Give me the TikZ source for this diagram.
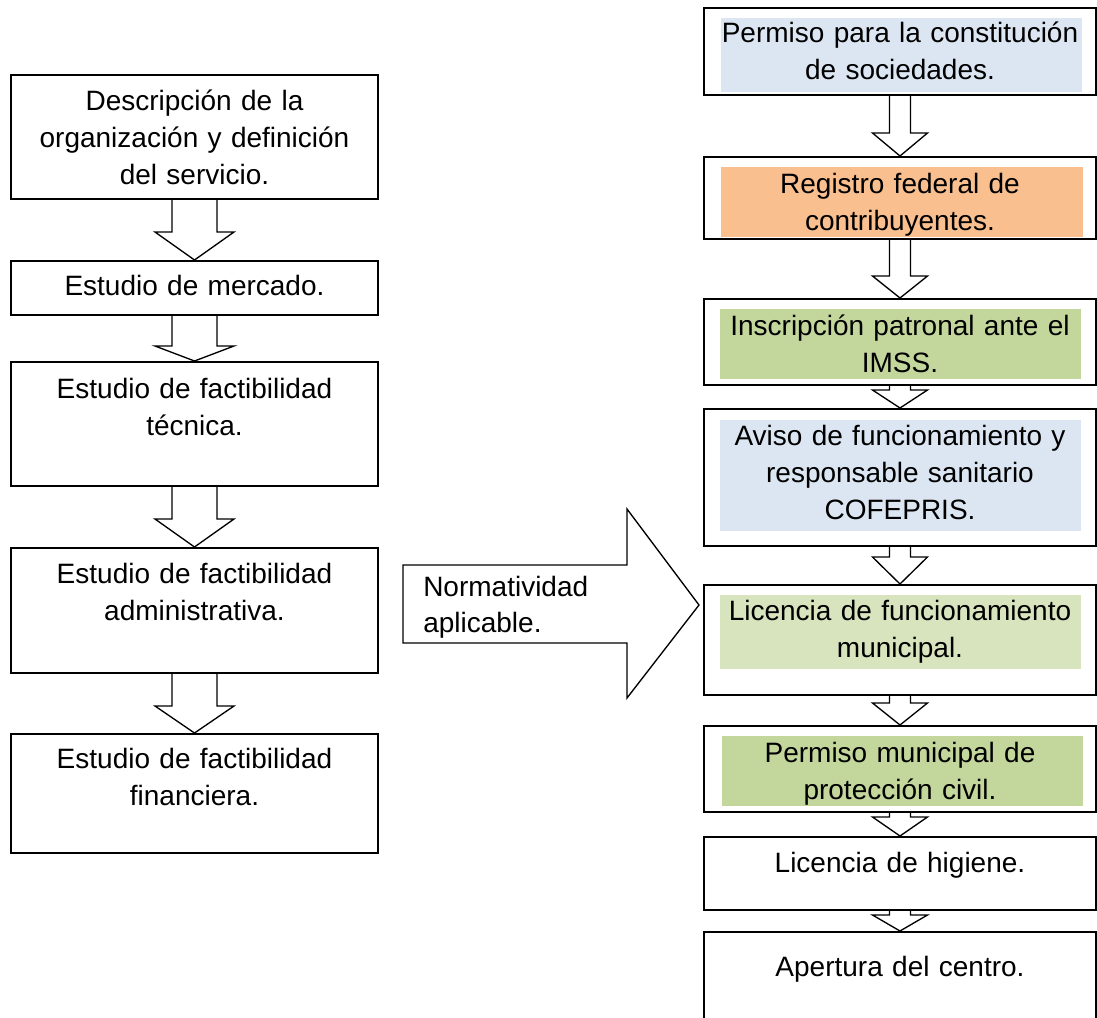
\documentclass[tikz,border=0pt]{standalone}
\usepackage{fontspec}
\setmainfont{Liberation Sans}
\usetikzlibrary{calc}
\definecolor{fblue}{HTML}{DCE6F2}
\definecolor{forange}{HTML}{F9BF8F}
\definecolor{fgreen}{HTML}{C3D69B}
\definecolor{flgreen}{HTML}{D7E4BD}
\tikzset{
 box/.style={draw, line width=1.5pt, fill=white, inner sep=0pt, anchor=north},
 lbox/.style={box, minimum width=367*0.75pt},
 rbox/.style={box, minimum width=392*0.75pt},
 txt/.style={font=\fontsize{21}{28}\selectfont, text width=385*0.75pt, align=center, inner sep=0pt, anchor=base},
 blk/.style={draw, line width=1pt, line join=miter},
}
\newcommand\blockarr[5]{%
 \draw[blk] ($(#1.south)+(-#3,0)$) -- ($(#2.north)+(-#3,-#5)$) -- ($(#2.north)+(-#4,-#5)$) -- (#2.north) -- ($(#2.north)+(#4,-#5)$) -- ($(#2.north)+(#3,-#5)$) -- ($(#1.south)+(#3,0)$);
}
\begin{document}
\begin{tikzpicture}[x=0.75pt, y=-0.75pt]
\useasboundingbox (0,0) rectangle (1097,1018);
\clip (0,0) rectangle (1097,1018);
% left column
\node[lbox, minimum height=124*0.75pt] (l1) at (194.5,74) {};
\node[lbox, minimum height=54*0.75pt] (l2) at (194.5,260) {};
\node[lbox, minimum height=124*0.75pt] (l3) at (194.5,361) {};
\node[lbox, minimum height=125*0.75pt] (l4) at (194.5,547) {};
\node[lbox, minimum height=119*0.75pt] (l5) at (194.5,733) {};
% right column
\node[rbox, minimum height=87*0.75pt] (r1) at (900,7) {};
\node[rbox, minimum height=82*0.75pt] (r2) at (900,156) {};
\node[rbox, minimum height=86*0.75pt] (r3) at (900,298) {};
\node[rbox, minimum height=137*0.75pt] (r4) at (900,408) {};
\node[rbox, minimum height=110*0.75pt] (r5) at (900,584) {};
\node[rbox, minimum height=86*0.75pt] (r6) at (900,725) {};
\node[rbox, minimum height=73*0.75pt] (r7) at (900,836) {};
\node[rbox, minimum height=100*0.75pt] (r8) at (900,931) {};
% shading
\fill[fblue] (721,18) rectangle (1082,92);
\fill[forange] (721,167) rectangle (1083,237);
\fill[fgreen] (720,309) rectangle (1081,379);
\fill[fblue] (720,420) rectangle (1081,531);
\fill[flgreen] (720,595) rectangle (1081,669);
\fill[fgreen] (722,736) rectangle (1083,806);
% texts left
\node[txt] (tl1) at (194.5,110) {Descripción de la\\organización y definición\\del servicio.};
\node[txt] (tl2) at (194.5,295) {Estudio de mercado.};
\node[txt] (tl3) at (194.5,398) {Estudio de factibilidad\\técnica.};
\node[txt] (tl4) at (194.5,583) {Estudio de factibilidad\\administrativa.};
\node[txt] (tl5) at (194.5,768) {Estudio de factibilidad\\financiera.};
% texts right
\node[txt] (tr1) at (900,42) {Permiso para la constitución\\de sociedades.};
\node[txt] (tr2) at (900,193) {Registro federal de\\contribuyentes.};
\node[txt] (tr3) at (900,335) {Inscripción patronal ante el\\IMSS.};
\node[txt] (tr4) at (900,445) {Aviso de funcionamiento y\\responsable sanitario\\COFEPRIS.};
\node[txt] (tr5) at (900,620) {Licencia de funcionamiento\\municipal.};
\node[txt] (tr6) at (900,762) {Permiso municipal de\\protección civil.};
\node[txt] (tr7) at (900,872) {Licencia de higiene.};
\node[txt] (tr8) at (900,976) {Apertura del centro.};
% block arrows left
\blockarr{l1}{l2}{22.5}{39.5}{28}
\blockarr{l2}{l3}{22.5}{39.5}{15}
\blockarr{l3}{l4}{22.5}{39.5}{28}
\blockarr{l4}{l5}{22.5}{39.5}{27}
% block arrows right
\blockarr{r1}{r2}{10.5}{27.5}{23}
\blockarr{r2}{r3}{10.5}{27.5}{22}
\blockarr{r3}{r4}{10.5}{27.5}{18}
\blockarr{r4}{r5}{10.5}{27.5}{27}
\blockarr{r5}{r6}{10.5}{27.5}{22}
\blockarr{r6}{r7}{10.5}{27.5}{19}
\blockarr{r7}{r8}{10.5}{27.5}{16}
% big arrow
\coordinate (tip) at ($(r5.west)+(-4,-35)$);
\draw[blk] (403,565) -- (627,565) -- (627,509) -- (tip) -- (627,698) -- (627,643) -- (403,643) -- cycle;
\node[font=\fontsize{21}{27}\selectfont, text width=200*0.75pt, align=left, inner sep=0pt, anchor=base west] (norm) at (423,596) {Normatividad\\aplicable.};
\end{tikzpicture}
\end{document}
